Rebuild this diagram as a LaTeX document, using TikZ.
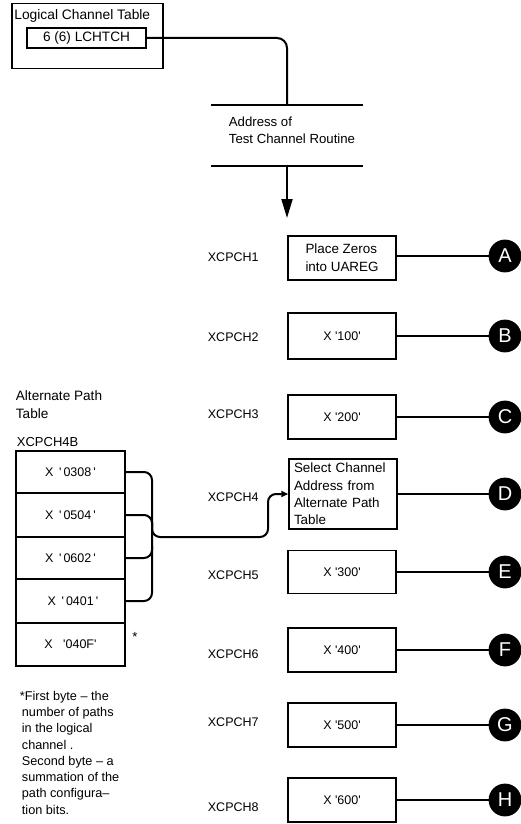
\documentclass[tikz,border=0pt]{standalone}
\usepackage{fontspec}
\setmainfont{Liberation Sans}[Ligatures=TeXOff]
\usetikzlibrary{arrows.meta}
\begin{document}
\begin{tikzpicture}[x=1pt,y=-1pt,line width=1.8pt,
  txt/.style={font=\fontsize{13.2}{17.5}\selectfont, inner sep=0pt},
  lbl/.style={txt, anchor=west},
  pbox/.style={draw, line width=1.5pt, minimum width=108pt, minimum height=44pt, inner sep=0pt, font=\fontsize{12.5}{17}\selectfont, align=left},
  rowbox/.style={draw, line width=1.5pt, minimum width=109pt, inner sep=0pt, font=\fontsize{12.5}{14}\selectfont},
  conn/.style={circle, fill=black, draw=black, minimum size=31pt, inner sep=0pt, text=white, font=\fontsize{20}{20}\selectfont},
  link/.style={line width=2pt},
  xlab/.style={lbl, font=\fontsize{12.5}{14}\selectfont},
  bigtip/.style={-{Triangle[length=19pt,width=11pt]}},
  smalltip/.style={-{Triangle[length=7pt,width=6pt]}}]
\useasboundingbox (0,0) rectangle (521,824);
\begin{scope}
\clip (0,0) rectangle (521,824);
% Logical channel table
\node[draw, line width=1.5pt, minimum width=151pt, minimum height=65pt, anchor=north west, inner sep=0pt] (lct) at (11,3) {};
\node[lbl, font=\fontsize{13.8}{16}\selectfont] (lcttitle) at (13.5,15.5) {Logical Channel Table};
\node[draw, line width=1.5pt, minimum width=119pt, minimum height=20pt, inner sep=0pt, font=\fontsize{13.6}{15}\selectfont] (lch) at (86.5,38) {6 (6) LCHTCH};
\coordinate (bend) at (287,105);
\draw[link, rounded corners=10pt] (lch.east) -- (287,38) -- (bend);
% address block
\coordinate (tl) at (211,105); \coordinate (tr) at (363,105);
\coordinate (bl) at (211,166); \coordinate (br) at (363,166);
\draw[link] (tl) -- (tr);
\draw[link] (bl) -- (br);
\node[lbl, anchor=north west, align=left] (addr) at (228,116) {Address of\\Test Channel Routine};
\coordinate (dtop) at (287,166); \coordinate (dtip) at (287,218);
\draw[link, bigtip] (dtop) -- (dtip);
% routine boxes
\node[pbox, font=\fontsize{13.4}{18}\selectfont] (b1) at (342,258) {Place Zeros\\into UAREG};
\node[pbox, minimum height=46pt] (b2) at (342,336) {X '100'};
\node[pbox] (b3) at (342,417) {X '200'};
\node[pbox, minimum height=70pt, text width=98pt, font=\fontsize{13.4}{17.3}\selectfont] (b4) at (343,494) {Select Channel\\Address from\\Alternate Path\\Table};
\node[pbox, minimum height=43pt] (b5) at (342,572) {X '300'};
\node[pbox] (b6) at (342,650) {X '400'};
\node[pbox] (b7) at (342,725) {X '500'};
\node[pbox] (b8) at (342,800) {X '600'};
% labels
\node[xlab] (l1) at (207,257) {XCPCH1};
\node[xlab] (l2) at (207,337) {XCPCH2};
\node[xlab] (l3) at (207,414) {XCPCH3};
\node[xlab] (l4) at (207,497) {XCPCH4};
\node[xlab] (l5) at (207,575) {XCPCH5};
\node[xlab] (l6) at (207,654) {XCPCH6};
\node[xlab] (l7) at (207,722) {XCPCH7};
\node[xlab] (l8) at (207,807) {XCPCH8};
% connectors
\node[conn] (cA) at (505,256) {A};
\node[conn] (cB) at (505,336) {B};
\node[conn] (cC) at (505,417) {C};
\node[conn] (cD) at (505,494) {D};
\node[conn] (cE) at (505,572) {E};
\node[conn] (cF) at (505,650) {F};
\node[conn] (cG) at (505,725) {G};
\node[conn] (cH) at (505,800) {H};
\draw[link] (b1.east |- cA) -- (cA);
\draw[link] (b2) -- (cB);
\draw[link] (b3) -- (cC);
\draw[link] (b4) -- (cD);
\draw[link] (b5) -- (cE);
\draw[link] (b6) -- (cF);
\draw[link] (b7) -- (cG);
\draw[link] (b8) -- (cH);
% alternate path table
\node[lbl, anchor=north west, align=left, font=\fontsize{13.6}{18}\selectfont] (apt) at (15,390) {Alternate Path\\Table};
\node[lbl, font=\fontsize{13}{15}\selectfont] (x4b) at (16,442) {XCPCH4B};
\node[rowbox, minimum height=42pt] (r1) at (70.5,472) {X\ \,'\,0308\,'};
\node[rowbox, minimum height=44pt] (r2) at (70.5,515) {X\ \,'\,0504\,'};
\node[rowbox, minimum height=42pt] (r3) at (70.5,558) {X\ \,'\,0602\,'};
\node[rowbox, minimum height=44pt] (r4) at (70.5,601) {\hspace*{5pt}X\ \,'\,0401\,'};
\node[rowbox, minimum height=43pt] (r5) at (70.5,644.5) {X\ \ \ '040F'};
\node[txt] (ast) at (135,637) {*};
% brackets
\draw[link, rounded corners=8pt] (r1.east) -- (152,472) -- (152,601) -- (r4.east);
\draw[link, rounded corners=8pt] (r2.east) -- (152,515) -- (152,530);
\draw[link, rounded corners=8pt] (r3.east) -- (152,558) -- (152,545);
\draw[link, rounded corners=8pt, smalltip] (152,522) -- (152,537) -- (268,537) -- (268,494) -- (b4.west);
% footnote
\node[txt, anchor=north west, align=left, font=\fontsize{12.7}{16.3}\selectfont] (fn) at (19,690) {*First byte – the\\ \hspace*{2pt}number of paths\\ \hspace*{2pt}in the logical\\ \hspace*{2pt}channel .\\ \hspace*{2pt}Second byte – a\\ \hspace*{2pt}summation of the\\ \hspace*{2pt}path configura–\\ \hspace*{2pt}tion bits.};
\end{scope}
\end{tikzpicture}
\end{document}
